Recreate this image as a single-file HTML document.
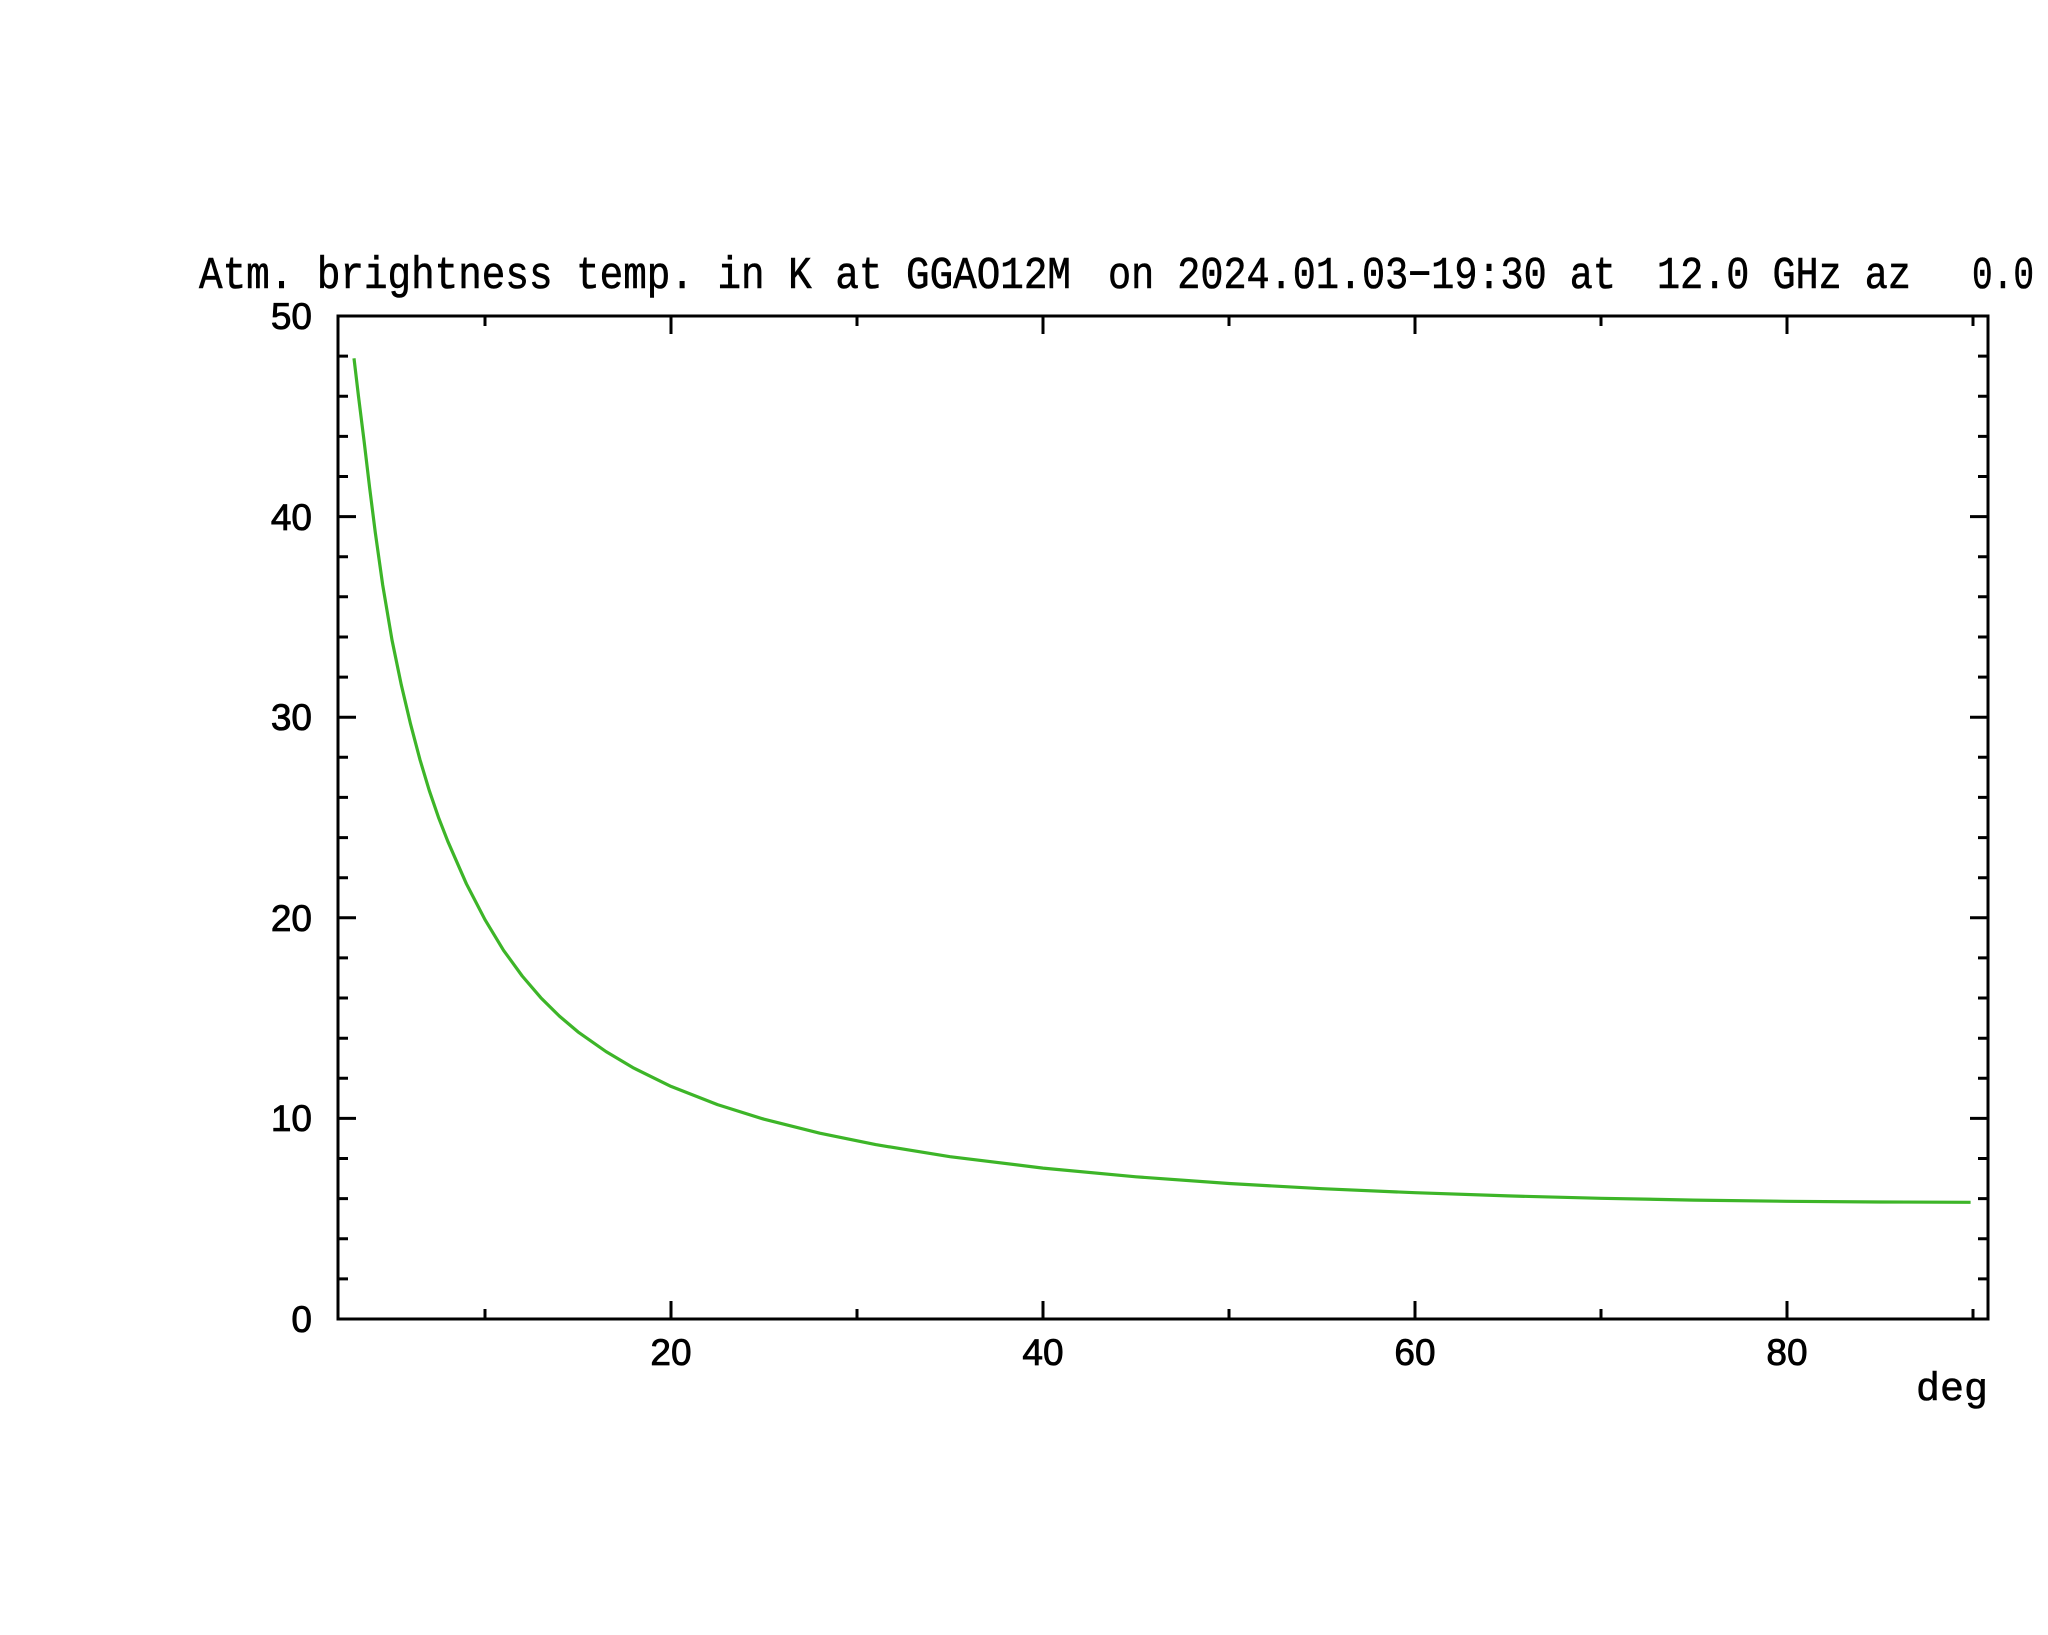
<!DOCTYPE html>
<html>
<head>
<meta charset="utf-8">
<style>
  html, body { margin:0; padding:0; background:#ffffff; }
  body { width:2048px; height:1635px; overflow:hidden; }
  svg { display:block; }
  .m { font-family:"Liberation Mono","DejaVu Sans Mono",monospace; fill:#000; }
  .s { font-family:"Liberation Sans","DejaVu Sans",sans-serif; fill:#000; }
</style>
</head>
<body>
<svg width="2048" height="1635" viewBox="0 0 2048 1635" xmlns="http://www.w3.org/2000/svg">
  <rect x="0" y="0" width="2048" height="1635" fill="#ffffff"/>

  <!-- Title -->
  <g class="m" font-size="45" stroke="#000" stroke-width="0.6">
    <text x="199" y="288" textLength="872" lengthAdjust="spacingAndGlyphs">Atm. brightness temp. in K at GGAO12M</text>
    <text x="1108" y="288" textLength="508" lengthAdjust="spacingAndGlyphs">on 2024.01.03−19:30 at</text>
    <text x="1657" y="288" textLength="254" lengthAdjust="spacingAndGlyphs">12.0 GHz az</text>
    <text x="1972" y="288" textLength="62" lengthAdjust="spacingAndGlyphs">0.0</text>
  </g>

  <!-- Frame -->
  <rect x="338" y="316" width="1650" height="1003" fill="none" stroke="#000" stroke-width="3"/>

  <!-- Ticks -->
  <path fill="none" stroke="#000" stroke-width="3" d="
    M671 1319 v-18 M1043 1319 v-18 M1415 1319 v-18 M1787 1319 v-18
    M485 1319 v-10 M857 1319 v-10 M1229 1319 v-10 M1601 1319 v-10 M1973 1319 v-10
    M671 316 v18 M1043 316 v18 M1415 316 v18 M1787 316 v18
    M485 316 v10 M857 316 v10 M1229 316 v10 M1601 316 v10 M1973 316 v10
    M338 1118.4 h18 M338 917.8 h18 M338 717.2 h18 M338 516.6 h18
    M338 1278.9 h10 M338 1238.8 h10 M338 1198.6 h10 M338 1158.5 h10
    M338 1078.3 h10 M338 1038.2 h10 M338 998.0 h10 M338 957.9 h10
    M338 877.7 h10 M338 837.6 h10 M338 797.4 h10 M338 757.3 h10
    M338 677.1 h10 M338 637.0 h10 M338 596.8 h10 M338 556.7 h10
    M338 476.5 h10 M338 436.4 h10 M338 396.2 h10 M338 356.1 h10
    M1988 1118.4 h-18 M1988 917.8 h-18 M1988 717.2 h-18 M1988 516.6 h-18
    M1988 1278.9 h-10 M1988 1238.8 h-10 M1988 1198.6 h-10 M1988 1158.5 h-10
    M1988 1078.3 h-10 M1988 1038.2 h-10 M1988 998.0 h-10 M1988 957.9 h-10
    M1988 877.7 h-10 M1988 837.6 h-10 M1988 797.4 h-10 M1988 757.3 h-10
    M1988 677.1 h-10 M1988 637.0 h-10 M1988 596.8 h-10 M1988 556.7 h-10
    M1988 476.5 h-10 M1988 436.4 h-10 M1988 396.2 h-10 M1988 356.1 h-10
  "/>

  <!-- Y labels -->
  <g class="s" font-size="37" text-anchor="end" stroke="#000" stroke-width="0.8">
    <text x="312" y="1332">0</text>
    <text x="312" y="1131">10</text>
    <text x="312" y="931">20</text>
    <text x="312" y="730">30</text>
    <text x="312" y="530">40</text>
    <text x="312" y="329">50</text>
  </g>

  <!-- X labels -->
  <g class="s" font-size="37" text-anchor="middle" stroke="#000" stroke-width="0.8">
    <text x="671" y="1365">20</text>
    <text x="1043" y="1365">40</text>
    <text x="1415" y="1365">60</text>
    <text x="1787" y="1365">80</text>
  </g>
  <text class="m" x="1988" y="1400" font-size="40" text-anchor="end" stroke="#000" stroke-width="0.6">deg</text>

  <!-- Curve -->
  <polyline fill="none" stroke="#3db528" stroke-width="3.2" stroke-linejoin="round" points="
    354.0,358.3 358.5,396.4 364.1,441.2 369.7,488.3 375.3,532.6 382.7,585.0
    392.0,640.0 401.3,684.9 410.6,724.2 419.9,759.4 429.2,790.3 438.5,817.4
    447.8,841.3 466.4,883.8 485.0,919.7 503.6,950.4 522.2,976.0 540.8,997.7
    559.4,1016.1 578.0,1031.9 605.9,1051.5 633.8,1068.1 671.0,1086.4
    717.5,1104.6 764.0,1119.2 819.8,1133.2 875.6,1144.6 950.0,1156.7
    1043.0,1168.1 1136.0,1176.8 1229.0,1183.5 1322.0,1188.7 1415.0,1192.7
    1508.0,1195.9 1601.0,1198.3 1694.0,1200.1 1787.0,1201.3 1880.0,1202.0
    1970.6,1202.3"/>
</svg>
</body>
</html>
